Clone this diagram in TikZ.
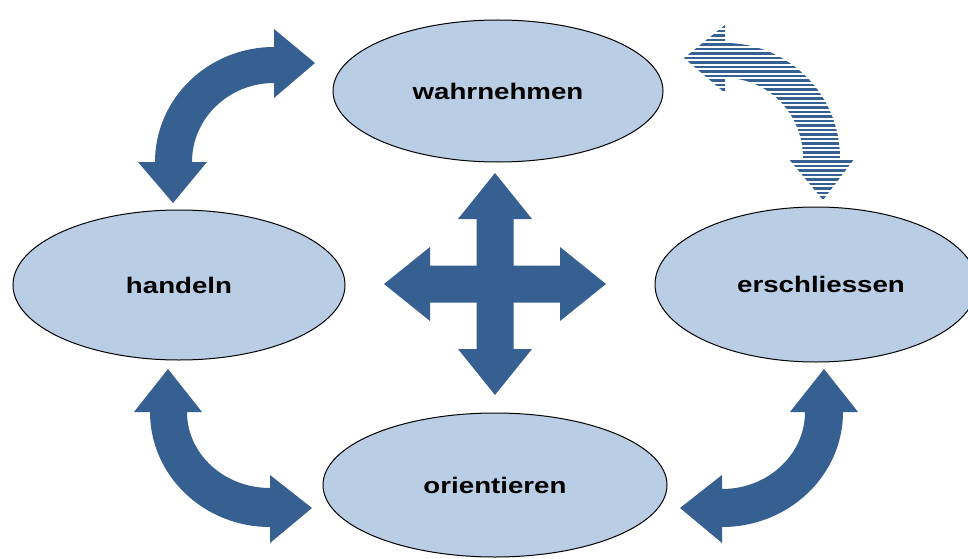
\documentclass[tikz,border=0pt]{standalone}
\usepackage{fontspec}
\usepackage{graphicx}
\setmainfont{Liberation Sans}
\usetikzlibrary{shapes.geometric}
\definecolor{arrowblue}{RGB}{54,96,146}
\definecolor{ellfill}{RGB}{185,205,229}
\newcommand{\lbl}[1]{\scalebox{1.23}[1]{\bfseries\fontsize{22.5}{27}\selectfont #1}}
\begin{document}
\begin{tikzpicture}[x=1pt,y=1pt,
  ell/.style={ellipse,draw=black,line width=1pt,fill=ellfill,inner sep=0pt},
  solidarrow/.style={fill=arrowblue,draw=none},
  stripe/.style={draw=arrowblue,line width=2.6pt}]
\useasboundingbox (0,0) rectangle (968,558);

% ellipses
\node[ell,minimum width=330pt,minimum height=142pt] (wahr) at (498,467) {\lbl{wahrnehmen}};
\node[ell,minimum width=332pt,minimum height=150pt] (hand) at (179,273) {\lbl{handeln}};
\node[ell,minimum width=322pt,minimum height=155pt] (ersch) at (816,273.5) {\hspace{10pt}\lbl{erschliessen}};
\node[ell,minimum width=344pt,minimum height=144pt] (orient) at (495,73) {\lbl{orientieren}};

% top-left curved double arrow
\fill[solidarrow] (155,396) arc[start angle=180,end angle=90,x radius=119pt,y radius=115pt]
  -- (274,529) -- (315,495) -- (274,460) -- (274,475)
  arc[start angle=90,end angle=180,x radius=82pt,y radius=79pt]
  -- (207,396) -- (173,355) -- (138,396) -- cycle;

% bottom-left curved double arrow
\fill[solidarrow] (150,146) arc[start angle=180,end angle=270,x radius=120pt,y radius=115pt]
  -- (270,15) -- (312,50) -- (270,83) -- (270,70)
  arc[start angle=270,end angle=180,x radius=83pt,y radius=76pt]
  -- (202,146) -- (168,189) -- (134,146) -- cycle;

% bottom-right curved double arrow
\fill[solidarrow] (843,146) arc[start angle=0,end angle=-90,x radius=121pt,y radius=115pt]
  -- (722,15) -- (680,50) -- (722,83) -- (722,69)
  arc[start angle=-90,end angle=0,x radius=83pt,y radius=77pt]
  -- (790,146) -- (824,189) -- (858,146) -- cycle;

% top-right striped curved double arrow
\begin{scope}
\clip (840,400) arc[start angle=0,end angle=90,x radius=115pt,y radius=115pt]
  -- (725,533) -- (684,500) -- (725,465) -- (725,480)
  arc[start angle=90,end angle=0,x radius=78pt,y radius=80pt]
  -- (788,400) -- (823,358) -- (855,400) -- cycle;
\foreach \yy in {356,360.5,...,536} \draw[stripe] (670,\yy) -- (870,\yy);
\end{scope}

% central four-way arrow
\begin{scope}[shift={(495,274)}]
\fill[solidarrow] (0,111) -- (37,65) -- (18.5,65) -- (18.5,18.5) -- (65,18.5) -- (65,37)
  -- (111,0) -- (65,-37) -- (65,-18.5) -- (18.5,-18.5) -- (18.5,-65) -- (37,-65)
  -- (0,-111) -- (-37,-65) -- (-18.5,-65) -- (-18.5,-18.5) -- (-65,-18.5) -- (-65,-37)
  -- (-111,0) -- (-65,37) -- (-65,18.5) -- (-18.5,18.5) -- (-18.5,65) -- (-37,65) -- cycle;
\end{scope}
\end{tikzpicture}
\end{document}
